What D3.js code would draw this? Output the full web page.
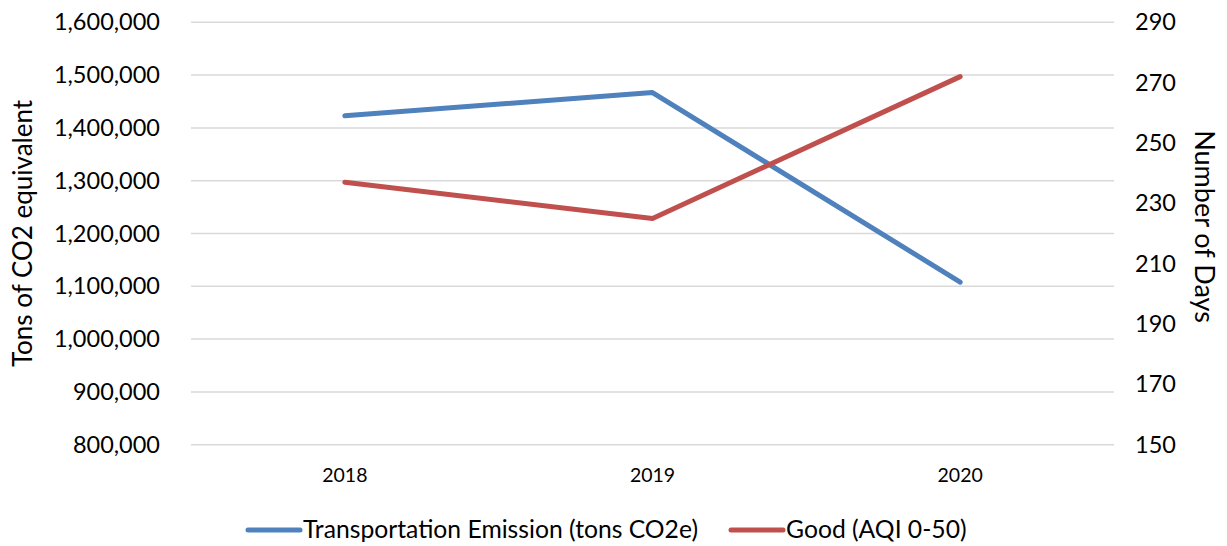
<!DOCTYPE html>
<html>
<head>
<meta charset="utf-8">
<script src="https://cdn.jsdelivr.net/npm/d3@7"></script>
<style>
  html, body { margin: 0; padding: 0; background: #fff; }
  svg text { font-family: Lato, "Open Sans", sans-serif; fill: #000; }
</style>
</head>
<body>
<svg id="chart" width="1227" height="546"></svg>
<script>
// Yearly values
const years = ["2018", "2019", "2020"];
const emissions = [1423000, 1467000, 1108000];   // tons CO2e (left axis)
const goodDays = [237, 225, 272];                 // days with AQI 0-50 (right axis)
const leftTicks = [800000, 900000, 1000000, 1100000, 1200000, 1300000, 1400000, 1500000, 1600000];
const rightTicks = [150, 170, 190, 210, 230, 250, 270, 290];
const seriesNames = ["Transportation Emission (tons CO2e)", "Good (AQI 0-50)"];
const colors = ["#4F81BD", "#C0504D"];

const svg = d3.select("#chart");
const m = { left: 191, right: 1114, top: 22.3, bottom: 444.7 };

const x = d3.scaleBand().domain(years).range([m.left, m.right]);
const yL = d3.scaleLinear().domain([800000, 1600000]).range([m.bottom, m.top]);
const yR = d3.scaleLinear().domain([150, 290]).range([m.bottom, m.top]);

// Horizontal gridlines follow the left axis
svg.append("g")
  .selectAll("line")
  .data(leftTicks)
  .join("line")
  .attr("x1", m.left).attr("x2", m.right)
  .attr("y1", d => yL(d)).attr("y2", d => yL(d))
  .attr("stroke", "#D9D9D9").attr("stroke-width", 1.5);

// Left axis labels
const fmt = d3.format(",");
const leftAxis = d3.axisLeft(yL).tickValues(leftTicks).tickFormat(fmt).tickSize(0).tickPadding(31);
const gl = svg.append("g").attr("transform", `translate(${m.left},0)`).call(leftAxis);
gl.select(".domain").remove();
gl.selectAll("text").style("font-size", "23.5px").style("font-family", "Lato, sans-serif");

// Right axis labels
const rightAxis = d3.axisRight(yR).tickValues(rightTicks).tickSize(0).tickPadding(21);
const gr = svg.append("g").attr("transform", `translate(${m.right},0)`).call(rightAxis);
gr.select(".domain").remove();
gr.selectAll("text").style("font-size", "23.5px").style("font-family", "Lato, sans-serif");

// Category axis labels
const bottomAxis = d3.axisBottom(x).tickSize(0).tickPadding(23);
const gb = svg.append("g").attr("transform", `translate(0,${m.bottom})`).call(bottomAxis);
gb.select(".domain").remove();
gb.selectAll("text").style("font-size", "19.5px").style("font-family", "Lato, sans-serif");

// Axis titles
svg.append("text")
  .attr("transform", `translate(32,${(m.top + m.bottom) / 2}) rotate(-90)`)
  .attr("text-anchor", "middle")
  .style("font-size", "26px")
  .text("Tons of CO2 equivalent");
svg.append("text")
  .attr("transform", `translate(1195,${(m.top + m.bottom) / 2 - 7}) rotate(90)`)
  .attr("text-anchor", "middle")
  .style("font-size", "27px")
  .text("Number of Days");

// Lines
const cx = d => x(d) + x.bandwidth() / 2;
const lineL = d3.line().x((d, i) => cx(years[i])).y(d => yL(d));
const lineR = d3.line().x((d, i) => cx(years[i])).y(d => yR(d));

svg.append("path").datum(emissions)
  .attr("d", lineL).attr("fill", "none")
  .attr("stroke", colors[0]).attr("stroke-width", 5)
  .attr("stroke-linecap", "round").attr("stroke-linejoin", "round");
svg.append("path").datum(goodDays)
  .attr("d", lineR).attr("fill", "none")
  .attr("stroke", colors[1]).attr("stroke-width", 5)
  .attr("stroke-linecap", "round").attr("stroke-linejoin", "round");

// Legend
const legendItems = [
  { name: seriesNames[0], color: colors[0], x: 248 },
  { name: seriesNames[1], color: colors[1], x: 731 }
];
const lg = svg.append("g").selectAll("g").data(legendItems).join("g")
  .attr("transform", d => `translate(${d.x},530)`);
lg.append("line").attr("x1", 0).attr("x2", 52).attr("y1", 0).attr("y2", 0)
  .attr("stroke", d => d.color).attr("stroke-width", 5).attr("stroke-linecap", "round");
lg.append("text").attr("x", 55).attr("y", 8)
  .style("font-size", "24.7px")
  .text(d => d.name);
</script>
</body>
</html>
